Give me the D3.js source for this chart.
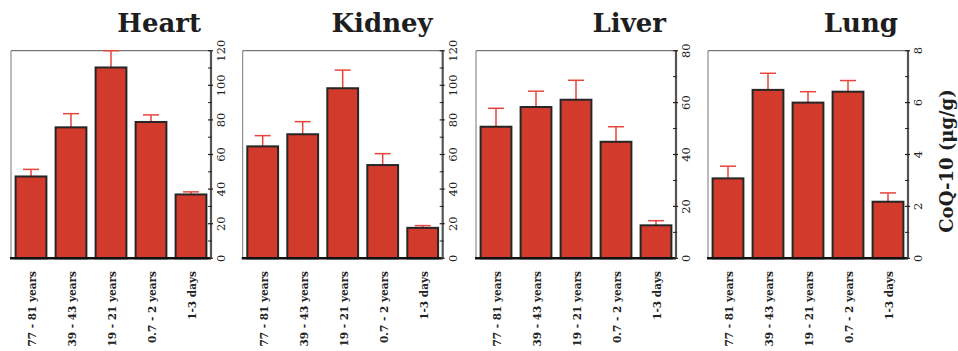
<!DOCTYPE html>
<html>
<head>
<meta charset="utf-8">
<script src="https://cdn.jsdelivr.net/npm/d3@7"></script>
<style>
  html, body { margin: 0; padding: 0; background: #fff; }
  svg { display: block; }
</style>
</head>
<body>
<svg id="chart" width="958" height="351"></svg>
<script>
// ---- data ----
const categories = ["77 - 81 years", "39 - 43 years", "19 - 21 years", "0.7 - 2 years", "1-3 days"];
const organs = ["Heart", "Kidney", "Liver", "Lung"];

const heartMean  = [47.3, 75.7, 110.3, 78.8, 36.9];
const heartErr   = [4.1, 7.9, 9.7, 4.1, 1.5];
const kidneyMean = [64.7, 71.7, 98.3, 53.9, 17.6];
const kidneyErr  = [6.2, 7.3, 10.5, 6.6, 1.3];
const liverMean  = [50.7, 58.3, 61.1, 44.9, 12.7];
const liverErr   = [7.1, 6.1, 7.5, 5.8, 1.8];
const lungMean   = [3.08, 6.49, 6.0, 6.42, 2.18];
const lungErr    = [0.47, 0.64, 0.42, 0.43, 0.34];

const yMaxes      = [120, 120, 80, 8];
const majorTicks  = [[0, 20, 40, 60, 80, 100, 120], [0, 20, 40, 60, 80, 100, 120], [0, 20, 40, 60, 80], [0, 2, 4, 6, 8]];
const minorTicks  = [[10, 30, 50, 70, 90, 110], [10, 30, 50, 70, 90, 110], [10, 30, 50, 70], [1, 3, 5, 7]];
const yTitle = "CoQ-10 (μg/g)";

const means = [heartMean, kidneyMean, liverMean, lungMean];
const errs  = [heartErr, kidneyErr, liverErr, lungErr];

// ---- layout ----
const svg = d3.select("#chart");
const panelLefts = [11, 242.7, 476, 708];
const panelW = 200;
const plotTop = 50.7, plotBottom = 258.3;
const barFill = "#d23a2c", barStroke = "#262626", errColor = "#e8453c";

organs.forEach((organ, i) => {
  const g = svg.append("g").attr("transform", `translate(${panelLefts[i]},0)`);
  const x = d3.scaleBand().domain(categories).range([0, panelW]).paddingInner(0.23).paddingOuter(0.115);
  const y = d3.scaleLinear().domain([0, yMaxes[i]]).range([plotBottom, plotTop]);
  const rows = categories.map((c, k) => ({ c, v: means[i][k], e: errs[i][k] }));

  // frame: top + left thin lines
  g.append("line").attr("x1", 0).attr("x2", panelW).attr("y1", plotTop).attr("y2", plotTop)
    .attr("stroke", "#555").attr("stroke-width", 1);
  g.append("line").attr("x1", 0).attr("x2", 0).attr("y1", plotTop).attr("y2", plotBottom)
    .attr("stroke", "#777").attr("stroke-width", 1);

  // error bars (upper only)
  const eb = g.append("g");
  eb.selectAll("line.stem").data(rows).join("line").attr("class", "stem")
    .attr("x1", d => x(d.c) + x.bandwidth() / 2).attr("x2", d => x(d.c) + x.bandwidth() / 2)
    .attr("y1", d => y(d.v)).attr("y2", d => y(d.v + d.e))
    .attr("stroke", errColor).attr("stroke-width", 1.5);
  eb.selectAll("line.cap").data(rows).join("line").attr("class", "cap")
    .attr("x1", d => x(d.c) + x.bandwidth() / 2 - 8).attr("x2", d => x(d.c) + x.bandwidth() / 2 + 8)
    .attr("y1", d => y(d.v + d.e)).attr("y2", d => y(d.v + d.e))
    .attr("stroke", errColor).attr("stroke-width", 1.5);

  // bars
  g.selectAll("rect.bar").data(rows).join("rect").attr("class", "bar")
    .attr("x", d => x(d.c)).attr("width", x.bandwidth())
    .attr("y", d => y(d.v)).attr("height", d => y(0) - y(d.v))
    .attr("fill", barFill).attr("stroke", barStroke).attr("stroke-width", 2);

  // baseline
  g.append("line").attr("x1", -1).attr("x2", panelW).attr("y1", plotBottom).attr("y2", plotBottom)
    .attr("stroke", "#111").attr("stroke-width", 2.5);

  // right axis
  const ax = g.append("g").attr("transform", `translate(${panelW},0)`);
  ax.append("line").attr("x1", 0).attr("x2", 0).attr("y1", plotTop).attr("y2", plotBottom)
    .attr("stroke", "#555").attr("stroke-width", 2.2);
  ax.selectAll("line.major").data(majorTicks[i]).join("line").attr("class", "major")
    .attr("x1", -3).attr("x2", 2).attr("y1", d => y(d)).attr("y2", d => y(d))
    .attr("stroke", "#222").attr("stroke-width", 1.2);
  ax.selectAll("line.minor").data(minorTicks[i]).join("line").attr("class", "minor")
    .attr("x1", -3).attr("x2", 1).attr("y1", d => y(d)).attr("y2", d => y(d))
    .attr("stroke", "#222").attr("stroke-width", 1);
  ax.selectAll("text.tick").data(majorTicks[i]).join("text").attr("class", "tick")
    .attr("transform", d => `translate(14,${y(d)}) rotate(-90)`)
    .attr("text-anchor", "middle")
    .attr("font-family", "DejaVu Serif, serif").attr("font-size", 11.5)
    .attr("fill", "#222")
    .text(d => d);

  // category labels
  g.selectAll("text.cat").data(categories).join("text").attr("class", "cat")
    .attr("transform", c => `translate(${x(c) + x.bandwidth() / 2 + 5},271) rotate(-90)`)
    .attr("text-anchor", "end")
    .attr("font-family", "DejaVu Serif, serif").attr("font-weight", "bold").attr("font-size", 10.5)
    .attr("fill", "#222")
    .text(c => c);

  // title
  g.append("text").attr("x", panelW - 10).attr("y", 32)
    .attr("text-anchor", "end")
    .attr("font-family", "DejaVu Serif, serif").attr("font-weight", "bold").attr("font-size", 26)
    .attr("fill", "#1e1e1e")
    .text(organ);
});

// y-axis title
svg.append("text")
  .attr("transform", "translate(953,161) rotate(-90)")
  .attr("text-anchor", "middle")
  .attr("font-family", "DejaVu Serif, serif").attr("font-weight", "bold").attr("font-size", 18)
  .attr("fill", "#1e1e1e")
  .text(yTitle);
</script>
</body>
</html>
